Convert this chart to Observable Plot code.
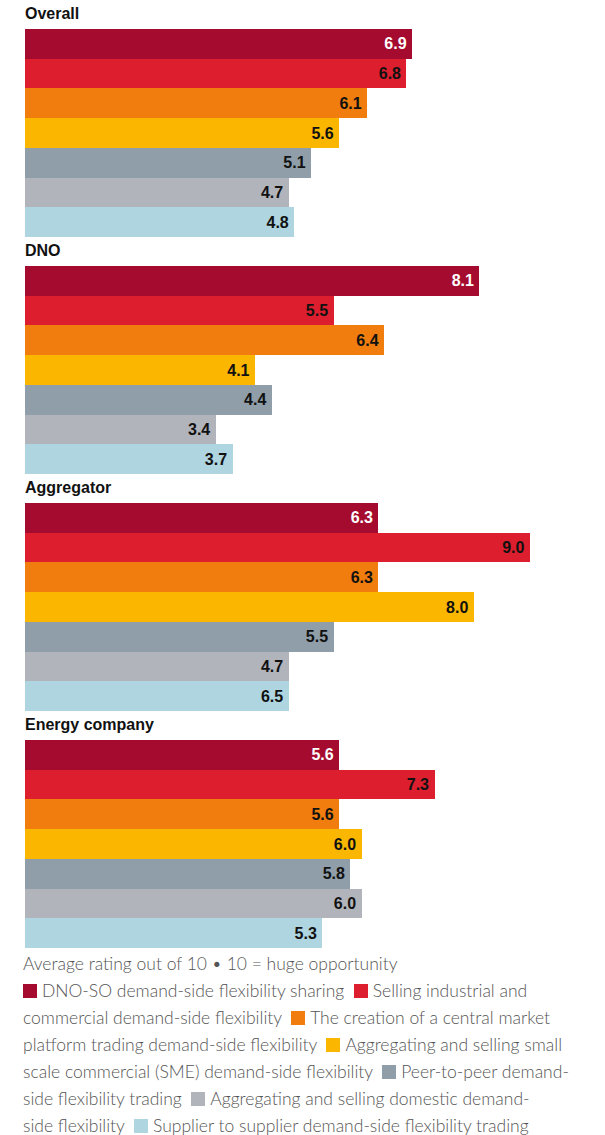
<!DOCTYPE html>
<html>
<head>
<meta charset="utf-8">
<script src="https://cdn.jsdelivr.net/npm/d3@7"></script>
<script src="https://cdn.jsdelivr.net/npm/@observablehq/plot@0.6"></script>
<style>
  body { margin: 0; background: #fff; width: 605px; overflow: hidden; }
  .title { font-family: "Liberation Sans", Arial, sans-serif; font-weight: 700; font-size: 16px; color: #111;
           height: 29px; line-height: 26px; padding-left: 25px; box-sizing: border-box; padding-top: 1px; }
  .plot svg { display: block; }
  .legend { font-family: Lato, sans-serif; font-weight: 300; font-size: 17.5px; white-space: nowrap;
            line-height: 27px; color: #555; width: 582px; padding: 2px 0 0 23px; }
  .sw { display: inline-block; width: 14px; height: 14px; margin-right: 5px; vertical-align: -1px; }
</style>
</head>
<body>
<div id="chart"></div>
<script>
const groups = ["Overall", "DNO", "Aggregator", "Energy company"];
const series = [
  "DNO-SO demand-side flexibility sharing",
  "Selling industrial and commercial demand-side flexibility",
  "The creation of a central market platform trading demand-side flexibility",
  "Aggregating and selling small scale commercial (SME) demand-side flexibility",
  "Peer-to-peer demand-side flexibility trading",
  "Aggregating and selling domestic demand-side flexibility",
  "Supplier to supplier demand-side flexibility trading"
];
const colors = ["#a50b2e", "#dc1e2e", "#f07d0d", "#fbb700", "#8f9ea8", "#b1b4bb", "#aed5e0"];

// bar lengths as drawn in the source
const overall = [6.9, 6.8, 6.1, 5.6, 5.1, 4.7, 4.8];
const dno = [8.1, 5.5, 6.4, 4.1, 4.4, 3.4, 3.7];
const aggregator = [6.3, 9.0, 6.3, 8.0, 5.5, 4.7, 4.7];
const energyCompany = [5.6, 7.3, 5.6, 6.0, 5.8, 6.0, 5.3];
// printed labels (the source prints 6.5 on the last Aggregator bar, drawn at ~4.7)
const aggregatorLabels = [6.3, 9.0, 6.3, 8.0, 5.5, 4.7, 6.5];

const footnote = "Average rating out of 10 \u2022 10 = huge opportunity";
// where the legend paragraph wraps (text of a series after which a line ends)
const legendWraps = [null, "Selling industrial and", "The creation of a central market",
  "Aggregating and selling small", "Peer-to-peer demand-", "Aggregating and selling domestic demand-", null];

const groupValues = [overall, dno, aggregator, energyCompany];
const groupLabels = [overall, dno, aggregatorLabels, energyCompany];

const root = document.getElementById("chart");
groups.forEach((g, gi) => {
  const t = document.createElement("div");
  t.className = "title";
  t.textContent = g;
  root.appendChild(t);
  const rows = series.map((s, i) => ({series: s, value: groupValues[gi][i], label: d3.format(".1f")(groupLabels[gi][i])}));
  const p = Plot.plot({
    width: 605, height: 208,
    marginLeft: 25, marginRight: 19, marginTop: 0, marginBottom: 0,
    x: {domain: [0, 10], axis: null},
    y: {domain: series, axis: null, padding: 0, round: false},
    color: {domain: series, range: colors},
    marks: [
      Plot.barX(rows, {x: "value", y: "series", fill: "series", shapeRendering: "crispEdges"}),
      Plot.text(rows, {x: "value", y: "series", text: "label", textAnchor: "end", dx: -6,
        fill: d => d.series === series[0] ? "#ffffff" : "#111111",
        fontWeight: 700, fontSize: 16, fontFamily: "Liberation Sans, Arial, sans-serif"})
    ]
  });
  const w = document.createElement("div");
  w.className = "plot";
  w.appendChild(p);
  root.appendChild(w);
});

const leg = document.createElement("div");
leg.className = "legend";
const first = document.createElement("div");
first.textContent = footnote;
leg.appendChild(first);
const body = document.createElement("div");
series.forEach((s, i) => {
  const sw = document.createElement("span");
  sw.className = "sw";
  sw.style.background = colors[i];
  body.appendChild(sw);
  const tail = i < series.length - 1 ? "\u00a0 " : "";
  const wrapAt = legendWraps[i];
  if (wrapAt && s.startsWith(wrapAt)) {
    body.appendChild(document.createTextNode(wrapAt.trim()));
    body.appendChild(document.createElement("br"));
    body.appendChild(document.createTextNode(s.slice(wrapAt.length).trim() + tail));
  } else {
    body.appendChild(document.createTextNode(s + tail));
  }
});
leg.appendChild(body);
root.appendChild(leg);
</script>
</body>
</html>
